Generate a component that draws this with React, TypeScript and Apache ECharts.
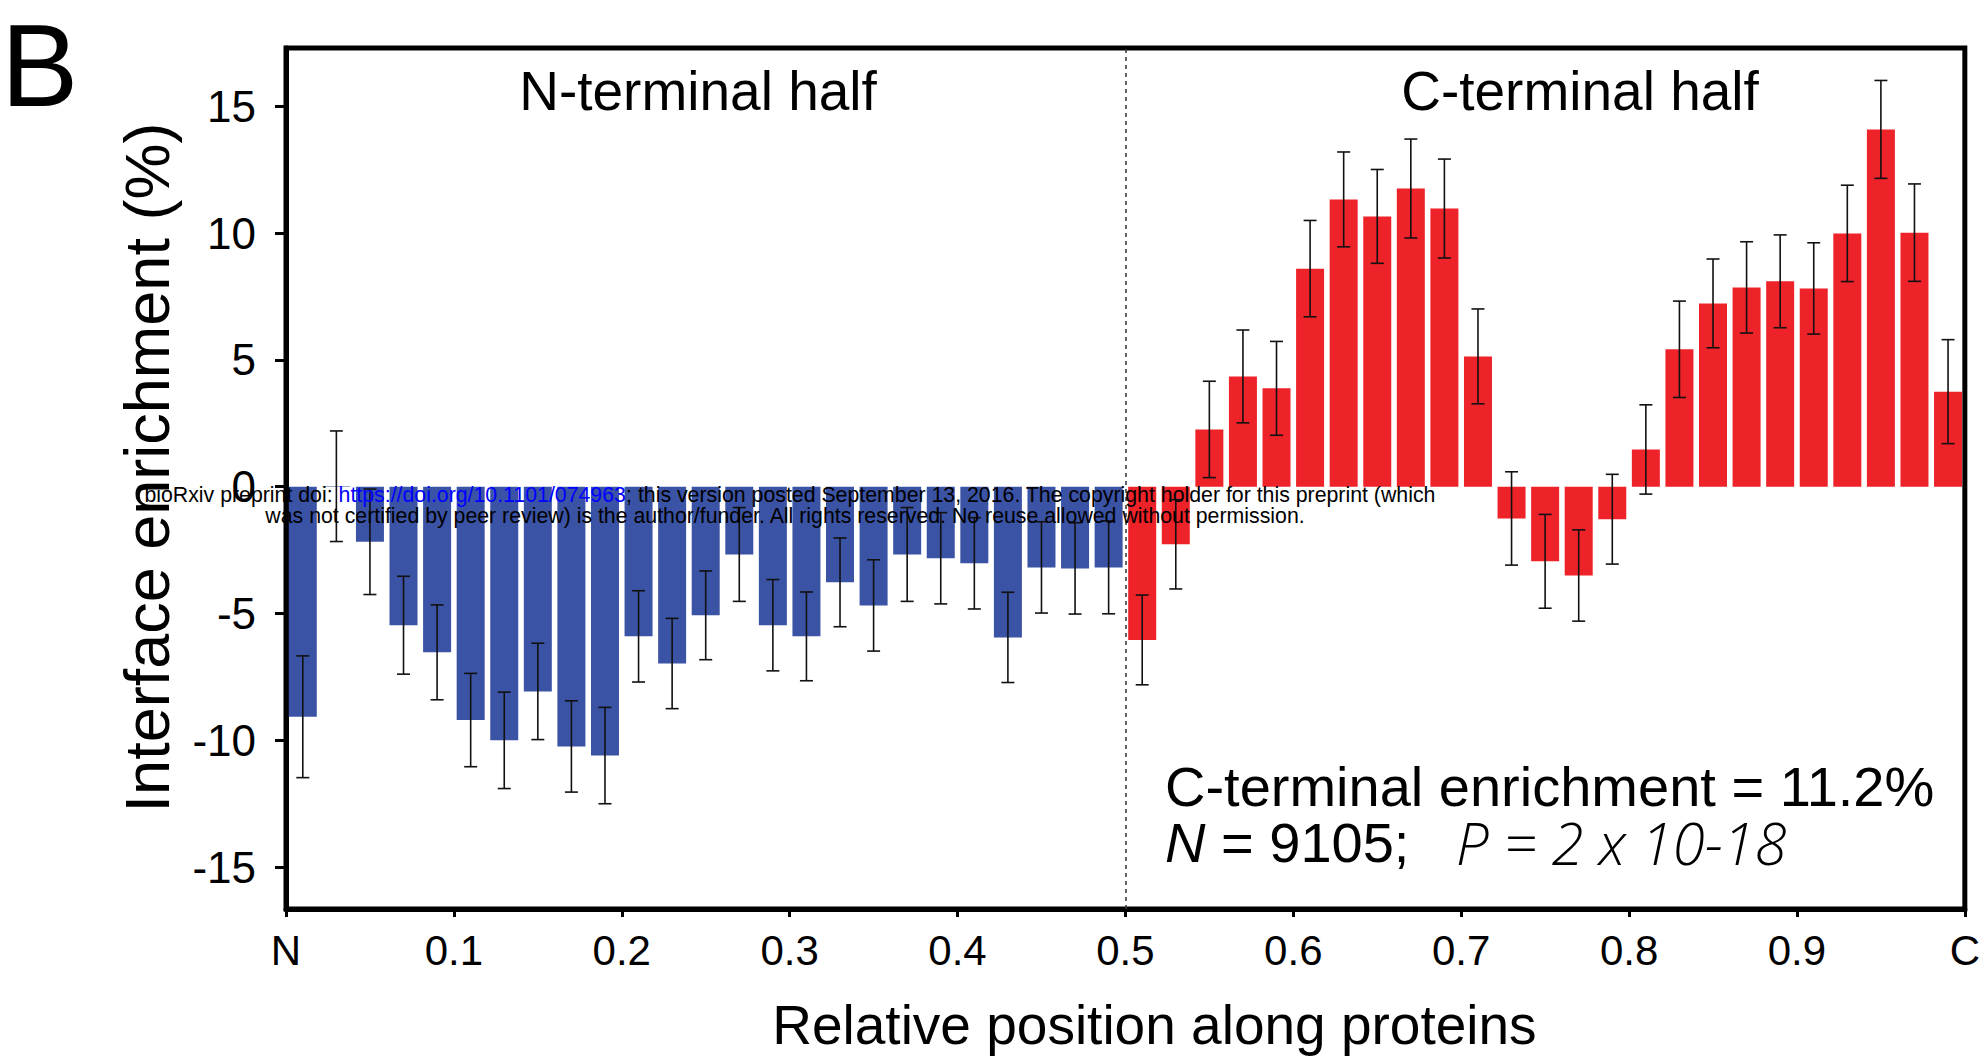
import React, { useEffect, useRef } from "react";
import * as echarts from "echarts";

const FONT = "'Liberation Sans', Arial, Helvetica, sans-serif";

const nTermBins = [0.01, 0.03, 0.05, 0.07, 0.09, 0.11, 0.13, 0.15, 0.17, 0.19, 0.21, 0.23, 0.25, 0.27, 0.29, 0.31, 0.33, 0.35, 0.37, 0.39, 0.41, 0.43, 0.45, 0.47, 0.49];
const nTermEnrichment = [-9.07, 0.02, -2.17, -5.46, -6.53, -9.2, -10.0, -8.07, -10.24, -10.6, -5.9, -6.97, -5.07, -2.67, -5.46, -5.9, -3.77, -4.68, -2.67, -2.82, -3.02, -5.94, -3.18, -3.22, -3.18];
const nTermError = [2.4, 2.18, 2.08, 1.93, 1.87, 1.84, 1.9, 1.9, 1.8, 1.9, 1.8, 1.78, 1.75, 1.85, 1.8, 1.75, 1.75, 1.8, 1.85, 1.8, 1.8, 1.78, 1.8, 1.8, 1.83];

const cTermBins = [0.51, 0.53, 0.55, 0.57, 0.59, 0.61, 0.63, 0.65, 0.67, 0.69, 0.71, 0.73, 0.75, 0.77, 0.79, 0.81, 0.83, 0.85, 0.87, 0.89, 0.91, 0.93, 0.95, 0.97, 0.99];
const cTermEnrichment = [-6.04, -2.27, 2.26, 4.35, 3.88, 8.6, 11.33, 10.66, 11.76, 10.97, 5.14, -1.25, -2.94, -3.5, -1.28, 1.47, 5.42, 7.23, 7.86, 8.1, 7.82, 9.99, 14.09, 10.02, 3.75];
const cTermError = [1.77, 1.76, 1.9, 1.83, 1.85, 1.9, 1.87, 1.85, 1.95, 1.95, 1.87, 1.84, 1.85, 1.8, 1.77, 1.76, 1.9, 1.75, 1.8, 1.83, 1.8, 1.9, 1.93, 1.92, 2.05];

const xTickLabels = ["N", "0.1", "0.2", "0.3", "0.4", "0.5", "0.6", "0.7", "0.8", "0.9", "C"];
const yTickValues = [-15, -10, -5, 0, 5, 10, 15];

const BLUE = "#3b53a4";
const RED = "#ee2229";

export default function App() {
  const ref = useRef<HTMLDivElement>(null);

  useEffect(() => {
    if (!ref.current) return;
    const chart = echarts.init(ref.current, undefined, { renderer: "svg" });

    const errData = [
      ...nTermBins.map((x, i) => [x, nTermEnrichment[i] - nTermError[i], nTermEnrichment[i] + nTermError[i]]),
      ...cTermBins.map((x, i) => [x, cTermEnrichment[i] - cTermError[i], cTermEnrichment[i] + cTermError[i]]),
    ];

    const errStyle = { stroke: "#111", lineWidth: 1.6 };

    chart.setOption({
      animation: false,
      backgroundColor: "#fff",
      grid: {
        left: 286,
        top: 48,
        width: 1684,
        height: 861,
        show: true,
        borderColor: "#000",
        borderWidth: 5,
        containLabel: false,
      },
      xAxis: {
        type: "value",
        min: 0,
        max: 1,
        interval: 0.1,
        name: "Relative position along proteins",
        nameLocation: "middle",
        nameGap: 88,
        nameTextStyle: { fontSize: 55, fontFamily: FONT, color: "#000", padding: [0, 0, 0, 58] },
        axisLine: { show: true, onZero: false, lineStyle: { color: "#000", width: 5 } },
        axisTick: { show: true, inside: false, length: 8, lineStyle: { color: "#000", width: 3 } },
        axisLabel: {
          fontSize: 42,
          fontFamily: FONT,
          color: "#000",
          margin: 20,
          showMinLabel: true,
          showMaxLabel: true,
          formatter: (v: number) => xTickLabels[Math.round(v * 10)] ?? "",
        },
        splitLine: { show: false },
      },
      yAxis: {
        type: "value",
        min: -16.65,
        max: 17.3,
        name: "Interface enrichment (%)",
        nameLocation: "middle",
        nameGap: 108,
        nameTextStyle: { fontSize: 63, fontFamily: FONT, color: "#000", padding: [0, 0, 0, 22] },
        axisLine: { show: true, lineStyle: { color: "#000", width: 5 } },
        axisTick: { show: true, inside: false, length: 11, customValues: yTickValues, lineStyle: { color: "#000", width: 3 } },
        axisLabel: { fontSize: 44, fontFamily: FONT, color: "#000", margin: 30, customValues: yTickValues },
        splitLine: { show: false },
      },
      series: [
        {
          name: "N-terminal half",
          type: "bar",
          barWidth: 28,
          barGap: "-100%",
          itemStyle: { color: BLUE },
          data: nTermBins.map((x, i) => [x, nTermEnrichment[i]]),
          markLine: {
            silent: true,
            symbol: ["none", "none"],
            label: { show: false },
            lineStyle: { type: [4, 4], color: "#333", width: 1.5 },
            data: [{ xAxis: 0.5 }],
          },
          z: 2,
        },
        {
          name: "C-terminal half",
          type: "bar",
          barWidth: 28,
          barGap: "-100%",
          itemStyle: { color: RED },
          data: cTermBins.map((x, i) => [x, cTermEnrichment[i]]),
          z: 2,
        },
        {
          name: "SE",
          type: "custom",
          z: 5,
          encode: { x: 0, y: [1, 2] },
          data: errData,
          renderItem: (params: any, api: any) => {
            const x = api.value(0);
            const lo = api.coord([x, api.value(1)]);
            const hi = api.coord([x, api.value(2)]);
            const half = 6.5;
            return {
              type: "group",
              children: [
                { type: "line", shape: { x1: hi[0], y1: hi[1], x2: lo[0], y2: lo[1] }, style: errStyle },
                { type: "line", shape: { x1: hi[0] - half, y1: hi[1], x2: hi[0] + half, y2: hi[1] }, style: errStyle },
                { type: "line", shape: { x1: lo[0] - half, y1: lo[1], x2: lo[0] + half, y2: lo[1] }, style: errStyle },
              ],
            };
          },
        },
      ],
      graphic: [
        {
          type: "text",
          x: 1,
          y: 66,
          z: 100,
          style: { text: "B", fontSize: 116, fontFamily: FONT, fill: "#000", align: "left", verticalAlign: "middle" },
        },
        {
          type: "text",
          x: 698,
          y: 91,
          z: 100,
          style: { text: "N-terminal half", fontSize: 55, fontFamily: FONT, fill: "#000", align: "center", verticalAlign: "middle" },
        },
        {
          type: "text",
          x: 1580,
          y: 91,
          z: 100,
          style: { text: "C-terminal half", fontSize: 55, fontFamily: FONT, fill: "#000", align: "center", verticalAlign: "middle" },
        },
        {
          type: "text",
          x: 1165,
          y: 786,
          z: 100,
          style: { text: "C-terminal enrichment = 11.2%", fontSize: 56, lineHeight: 46, fontFamily: FONT, fill: "#000", align: "left", verticalAlign: "middle" },
        },
        {
          type: "text",
          x: 1165,
          y: 842,
          z: 100,
          style: {
            text: "{i|N} = 9105;",
            fontSize: 56,
            lineHeight: 46,
            fontFamily: FONT,
            fill: "#000",
            align: "left",
            verticalAlign: "middle",
            rich: { i: { fontSize: 56, lineHeight: 46, fontFamily: FONT, fontStyle: "italic", fill: "#000" } },
          },
        },
        {
          type: "text",
          x: 1456,
          y: 842,
          z: 100,
          style: {
            text: "P = 2 x 10-18",
            fontSize: 58,
            lineHeight: 46,
            fontFamily: "'Open Sans', 'Liberation Sans', sans-serif",
            fontStyle: "italic",
            fontWeight: 300,
            fill: "#000",
            align: "left",
            verticalAlign: "middle",
          },
        },
        {
          type: "text",
          x: 790,
          y: 494.5,
          z: 100,
          style: {
            text: "{k|bioRxiv preprint doi: }{u|https://doi.org/10.1101/074963}{k|; this version posted September 13, 2016. The copyright holder for this preprint (which}",
            fontSize: 21.3,
            fontFamily: FONT,
            fill: "#000",
            align: "center",
            verticalAlign: "middle",
            rich: {
              k: { fontSize: 21.3, fontFamily: FONT, fill: "#000" },
              u: { fontSize: 21.3, fontFamily: FONT, fill: "#0000ff" },
            },
          },
        },
        {
          type: "text",
          x: 785,
          y: 515.5,
          z: 100,
          style: {
            text: "was not certified by peer review) is the author/funder. All rights reserved. No reuse allowed without permission.",
            fontSize: 21.3,
            fontFamily: FONT,
            fill: "#000",
            align: "center",
            verticalAlign: "middle",
          },
        },
      ],
    });

    return () => chart.dispose();
  }, []);

  return <div ref={ref} style={{ position: "fixed", left: 0, top: 0, width: 1983, height: 1057 }} />;
}
